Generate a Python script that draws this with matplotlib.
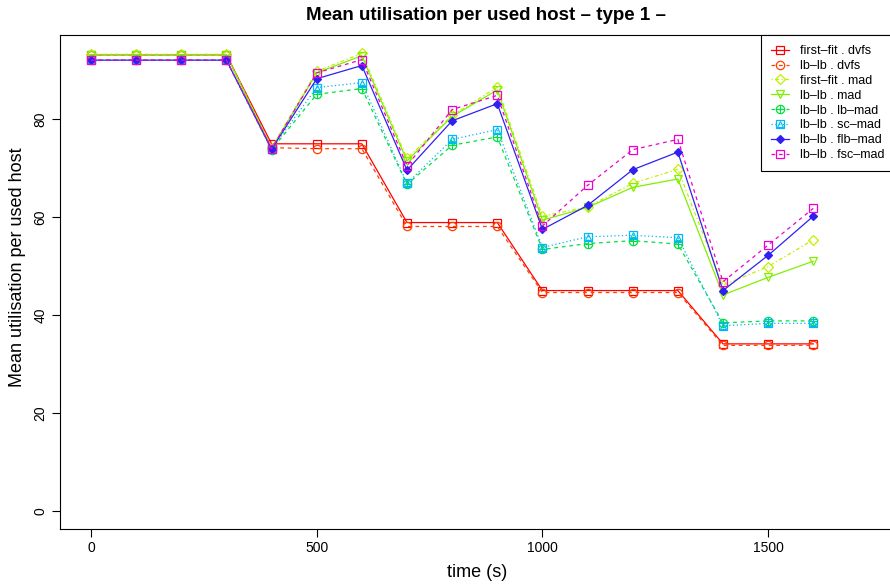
import matplotlib
matplotlib.use("Agg")
import matplotlib.pyplot as plt
from matplotlib.legend_handler import HandlerTuple

plt.rcParams["font.family"] = ["Liberation Sans", "DejaVu Sans"]

# time (s)
times = [0, 100, 200, 300, 400, 500, 600, 700, 800, 900, 1000, 1100, 1200, 1300, 1400, 1500, 1600]

ff_dvfs = [93.2, 93.2, 93.2, 93.2, 75.0, 75.0, 75.0, 58.9, 58.9, 58.9, 45.0, 45.0, 45.0, 45.0, 34.1, 34.1, 34.1]
lb_dvfs = [93.2, 93.2, 93.2, 93.2, 74.2, 74.0, 74.0, 58.1, 58.1, 58.1, 44.6, 44.6, 44.6, 44.6, 33.8, 33.8, 33.8]
ff_mad = [93.3, 93.3, 93.3, 93.3, 74.2, 89.8, 93.5, 72.0, 80.8, 86.6, 60.2, 62.1, 66.9, 69.8, 46.1, 49.9, 55.4]
lb_mad = [93.2, 93.2, 93.2, 93.2, 74.0, 89.5, 93.0, 71.5, 80.6, 86.0, 59.4, 62.0, 66.1, 67.8, 44.1, 47.7, 51.0]
lb_lbmad = [92.1, 92.1, 92.1, 92.1, 73.8, 85.1, 86.3, 66.7, 74.7, 76.4, 53.4, 54.6, 55.2, 54.5, 38.4, 38.8, 38.8]
lb_scmad = [92.1, 92.1, 92.1, 92.1, 73.9, 86.5, 87.5, 66.9, 75.9, 77.9, 53.8, 56.0, 56.3, 55.8, 37.8, 38.3, 38.3]
lb_flbmad = [92.1, 92.1, 92.1, 92.1, 73.9, 88.3, 91.0, 69.6, 79.7, 83.2, 57.5, 62.4, 69.7, 73.3, 45.0, 52.2, 60.2]
lb_fscmad = [92.1, 92.1, 92.1, 92.1, 74.0, 89.5, 92.2, 70.5, 82.0, 84.9, 58.2, 66.5, 73.8, 75.9, 46.8, 54.3, 61.8]

labels = ["first\u2013fit . dvfs", "lb\u2013lb . dvfs", "first\u2013fit . mad", "lb\u2013lb . mad",
          "lb\u2013lb . lb\u2013mad", "lb\u2013lb . sc\u2013mad", "lb\u2013lb . flb\u2013mad", "lb\u2013lb . fsc\u2013mad"]
series = [ff_dvfs, lb_dvfs, ff_mad, lb_mad, lb_lbmad, lb_scmad, lb_flbmad, lb_fscmad]

dashed = (0, (3, 3))
dotted = (0, (1, 2))
dotdash = (0, (1, 2, 3, 2))
# colour, linestyle, marker, filled, overlay marker
styles = [
    ("#FF0000", "-", "s", False, None),
    ("#FF4000", dashed, "o", False, None),
    ("#C0F000", dotdash, "D", False, None),
    ("#80F000", "-", "v", False, None),
    ("#00E040", dashed, "o", False, "+"),
    ("#00B8F8", dotted, "s", False, "^"),
    ("#3020F0", "-", "D", True, None),
    ("#F000D0", dashed, "s", False, None),
]

fig = plt.figure(figsize=(8.9, 5.88), dpi=100)
ax = fig.add_axes([60 / 890, 1 - 529 / 588, (895 - 60) / 890, (529 - 35) / 588])

handles = []
for y, lab, (col, ls, mk, filled, extra) in zip(series, labels, styles):
    ms = 4 if mk == "D" and filled else (5 if mk == "D" else 6)
    ln, = ax.plot(times, y, color=col, linestyle=ls, linewidth=0.9, marker=mk,
                  markersize=ms, markeredgewidth=0.9,
                  markerfacecolor=col if filled else "none", markeredgecolor=col)
    h = [ln]
    if extra is not None:
        ex, = ax.plot(times, y, linestyle="none", marker=extra, color=col,
                      markersize=4 if extra == "^" else 6, markeredgewidth=0.8,
                      markerfacecolor="none")
        h.append(ex)
    handles.append(tuple(h))

ax.set_xlim(-68.6, 1781)
ax.set_ylim(-3.74, 97.24)
ax.set_xticks([0, 500, 1000, 1500])
ax.set_yticks([0, 20, 40, 60, 80])
ax.tick_params(direction="out", length=6, width=0.8, labelsize=10, pad=3)
for lbl in ax.get_yticklabels():
    lbl.set_rotation(90)
    lbl.set_va("center")
for sp in ax.spines.values():
    sp.set_linewidth(0.8)
    sp.set_color("black")

ax.set_xlabel("time (s)", fontsize=13, labelpad=6)
ax.set_ylabel("Mean utilisation per used host", fontsize=13)
ax.yaxis.set_label_coords(-0.041, 0.53)
fig.text(486 / 890, 1 - 16 / 588, "Mean utilisation per used host \u2013 type 1 \u2013",
         ha="center", va="center", fontsize=13.5, fontweight="bold")

leg = ax.legend(handles=handles, labels=labels, handler_map={tuple: HandlerTuple(ndivide=1, pad=0)},
                loc="upper left", bbox_to_anchor=(761 / 890, 1 - 35 / 588),
                bbox_transform=fig.transFigure, fontsize=9, frameon=True, fancybox=False,
                framealpha=1, edgecolor="black", borderaxespad=0, borderpad=0.8,
                labelspacing=0.23, handlelength=1.4, handletextpad=0.9)
leg.get_frame().set_linewidth(0.8)

fig.savefig("out.png", dpi=100)
